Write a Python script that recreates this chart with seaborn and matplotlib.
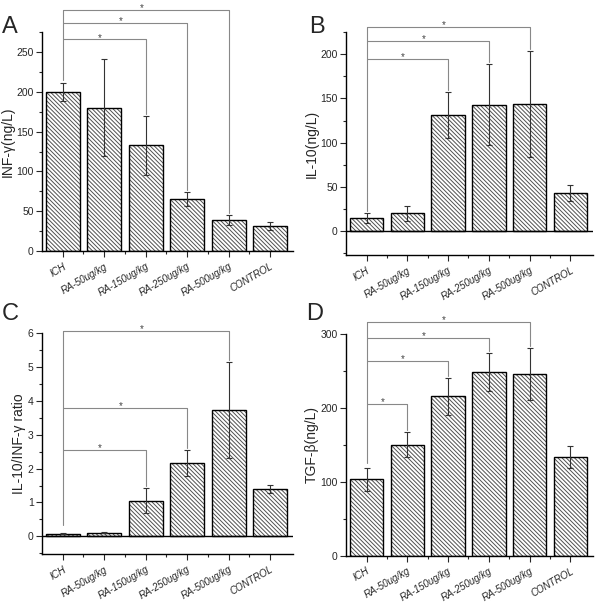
import matplotlib
matplotlib.use('Agg')
import matplotlib.pyplot as plt
from matplotlib.ticker import AutoMinorLocator, FixedLocator
import numpy as np
import pandas as pd
import seaborn as sns

# ---- données ----
groups = ["ICH", "RA-50ug/kg", "RA-150ug/kg", "RA-250ug/kg", "RA-500ug/kg", "CONTROL"]

inf_mean = [200, 180, 133, 65, 39, 31]
inf_sd = [11, 61, 37, 9, 6.5, 5]

il10_mean = [15, 20, 131, 143, 144, 43]
il10_sd = [6, 8.5, 26, 46, 60, 9]

ratio_mean = [0.08, 0.11, 1.05, 2.17, 3.73, 1.40]
ratio_sd = [0.02, 0.01, 0.37, 0.38, 1.42, 0.11]

tgf_mean = [103, 150, 215, 248, 245, 133]
tgf_sd = [15, 17, 25, 26, 35, 15]

# brackets de significativité : (groupe cible, hauteur)
inf_sig = [(2, 266), (3, 287), (4, 303)]
il10_sig = [(2, 195), (3, 215), (4, 231)]
ratio_sig = [(2, 2.54), (3, 3.80), (4, 6.06)]
tgf_sig = [(1, 205), (2, 263), (3, 294), (4, 316)]

sns.set_style("white")
plt.rcParams['font.family'] = ['Liberation Sans', 'DejaVu Sans']
plt.rcParams['hatch.linewidth'] = 0.7

fig = plt.figure(figsize=(6, 6.07), dpi=100)

panels = [
    # lettre, moyennes, sd, sig, ylabel, ylim, yticks, position axes, ich_bottom, position lettre
    ("A", inf_mean, inf_sd, inf_sig, "INF-γ(ng/L)", (0, 275), [0, 50, 100, 150, 200, 250],
     [0.070, 0.5865, 0.418, 0.3605], 215, (0.003, 0.946)),
    ("B", il10_mean, il10_sd, il10_sig, "IL-10(ng/L)", (-27, 225), [0, 50, 100, 150, 200],
     [0.577, 0.580, 0.411, 0.367], 23, (0.515, 0.946)),
    ("C", ratio_mean, ratio_sd, ratio_sig, "IL-10/INF-γ ratio", (-0.52, 6.0), [0, 1, 2, 3, 4, 5, 6],
     [0.070, 0.0873, 0.418, 0.364], 0.34, (0.003, 0.473)),
    ("D", tgf_mean, tgf_sd, tgf_sig, "TGF-β(ng/L)", (0, 300), [0, 100, 200, 300],
     [0.577, 0.0845, 0.411, 0.366], 125, (0.51, 0.473)),
]

for letter, mean, sd, sig, ylabel, ylim, yticks, pos, ich_bottom, lpos in panels:
    ax = fig.add_axes(pos)
    df = pd.DataFrame({"group": groups, "value": mean})

    # couche hachurée grise puis contour noir
    sns.barplot(data=df, x="group", y="value", color="white", edgecolor="#505050",
                linewidth=0, width=0.82, errorbar=None, ax=ax)
    for p in ax.patches:
        p.set_hatch("\\\\\\\\\\\\\\\\")
    sns.barplot(data=df, x="group", y="value", fill=False, edgecolor="black",
                linewidth=1.0, width=0.82, errorbar=None, ax=ax)

    x = np.arange(len(groups))
    ax.errorbar(x, mean, yerr=sd, fmt="none", ecolor="#333333", elinewidth=0.8,
                capsize=2.5, capthick=0.8)

    if ylim[0] < 0:
        ax.axhline(0, color="black", linewidth=1.0)

    ax.set_xlim(-0.5, 5.55)
    ax.set_ylim(*ylim)
    ax.set_yticks(yticks)
    ax.yaxis.set_minor_locator(AutoMinorLocator(2))
    ax.xaxis.set_minor_locator(FixedLocator(x[:-1] + 0.5))
    ax.set_xticks(x)
    ax.set_xticklabels(groups, rotation=30, ha="right", rotation_mode="anchor",
                       fontsize=7, style="italic")
    ax.tick_params(axis="y", labelsize=7.5, length=4, width=0.8, direction="out", left=True, pad=2)
    ax.tick_params(axis="x", length=4, width=0.8, direction="out", bottom=True)
    ax.tick_params(which="minor", length=2.5, width=0.8, direction="out", left=True, bottom=True)
    ax.set_xlabel("")
    ax.set_ylabel(ylabel, fontsize=10, labelpad=1)

    for s in ["top", "right"]:
        ax.spines[s].set_visible(False)
    for s in ["left", "bottom"]:
        ax.spines[s].set_color("black")
        ax.spines[s].set_linewidth(1.0)

    # brackets de significativité
    top = max(h for _, h in sig)
    ax.plot([0, 0], [ich_bottom, top], color="#888888", lw=0.8, clip_on=False)
    span = ylim[1] - ylim[0]
    for target, h in sig:
        right_bottom = mean[target] + sd[target] + 0.01 * span
        ax.plot([0, target, target], [h, h, right_bottom], color="#888888", lw=0.8, clip_on=False)
        ax.text(target / 2 - 0.1, h + 0.008 * span, "*", ha="center", va="center",
                fontsize=7, color="#444444", clip_on=False)

    fig.text(lpos[0], lpos[1], letter, fontsize=17, ha="left", va="baseline")

fig.savefig("out.png", dpi=100)
